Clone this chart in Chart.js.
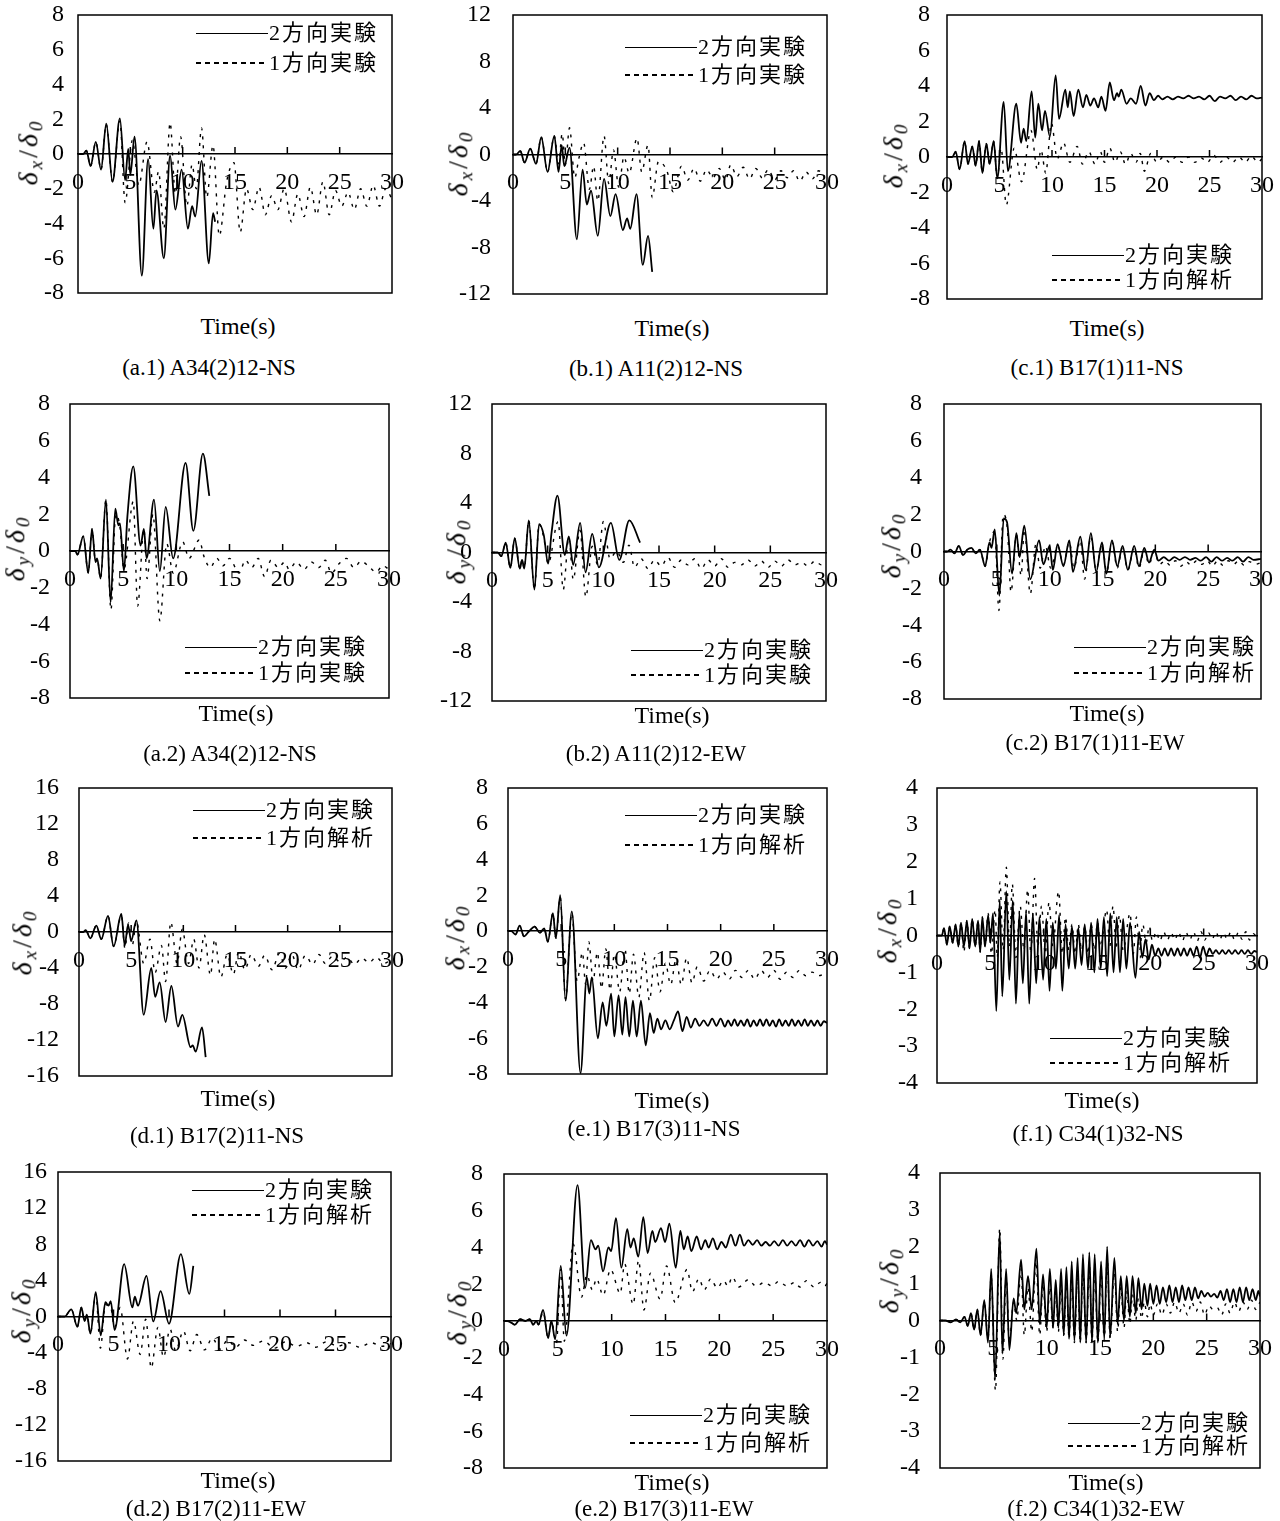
<!DOCTYPE html>
<html>
<head>
<meta charset="utf-8">
<script src="https://cdn.jsdelivr.net/npm/chart.js@4.4.1/dist/chart.umd.min.js"></script>
<style>
  html, body { margin: 0; padding: 0; background: #fff; }
  #page { position: relative; width: 1280px; height: 1521px; overflow: hidden;
          font-family: "Liberation Serif", "Times New Roman", serif; color: #000; }
  .holder { position: absolute; }
  .lbl { position: absolute; transform: translate(-50%, -50%); white-space: nowrap; line-height: 1; }
  .time { font-size: 24px; }
  .cap { font-size: 23px; }
  .ytitle { position: absolute; transform: translate(-50%, -50%) rotate(-90deg); white-space: nowrap;
            font-size: 28px; letter-spacing: 3px; line-height: 1; }
  .ytitle i { font-style: italic; }
  .ytitle sub { font-size: 0.68em; vertical-align: -0.28em; font-style: italic; }
  .leg { position: absolute; display: flex; align-items: center; transform: translateY(-50%);
         white-space: nowrap; font-family: "Liberation Serif", "Noto Sans CJK JP", serif;
         font-size: 22px; letter-spacing: 2px; line-height: 1; }
  .leg .s { width: 72px; height: 0; border-top: 1.7px solid #000; margin-right: 1px; }
  .leg .d { width: 72px; height: 1.5px; margin-right: 1px;
            background: repeating-linear-gradient(to right, #000 0 5px, transparent 5px 9px); }
</style>
</head>
<body>
<div id="page"></div>
<script>
// ---- response histories: [time (s), normalised displacement] ----
// 2方向実験 (bi-directional test) and the 1-direction reference for each specimen

const a1Bi = [[0,0],[0.5,0],[0.8,0.2],[1.2,-0.7],[1.7,0.7],[2.2,-0.9],[2.7,1.75],[3.3,-1.6],[4.0,2.05],[4.5,-1.5],[4.8,0.3],[5.0,-1.2],[5.4,1.0],[6.1,-7.0],[6.7,-0.3],[7.2,-4.3],[7.5,-2.1],[8.2,-6.0],[8.8,-0.1],[9.3,-3.2],[9.9,-0.9],[10.5,-4.3],[10.9,-3.0],[11.2,-3.6],[11.8,-0.4],[12.5,-6.3],[12.9,-3.4],[13.1,-3.9]];
const a1Uni = [[0,0],[0.5,0],[0.8,0.2],[1.2,-0.7],[1.7,0.7],[2.2,-0.9],[2.7,1.7],[3.3,-1.6],[4.0,1.9],[4.5,-2.8],[5.2,0.8],[5.8,-1.8],[6.6,0.7],[7.3,-2.2],[7.7,-1.0],[8.2,-4.3],[8.8,1.8],[9.3,-2.3],[9.8,1.0],[10.4,-3.0],[10.9,-0.6],[11.3,-2.0],[11.8,1.5],[12.3,-2.5],[12.9,0.5],[13.5,-4.7],[14.2,-1.6],[14.9,-0.5],[15.5,-4.5],[16.1,-2.0],[16.7,-3.2],[17.3,-1.9],[17.9,-3.5],[18.5,-2.4],[19.1,-3.2],[19.7,-2.0],[20.4,-3.9],[21.0,-2.3],[21.6,-3.6],[22.2,-1.9],[22.8,-3.5],[23.4,-1.6],[24.0,-3.5],[24.6,-2.1],[25.2,-3.0],[25.8,-2.2],[26.4,-3.2],[27.0,-2.0],[27.6,-3.0],[28.2,-1.8],[28.8,-3.0],[29.4,-2.0],[30,-2.6]];

const b1Bi = [[0,0],[0.3,0],[0.7,0.3],[1.1,-0.7],[1.65,0.5],[2.2,-0.8],[2.7,1.5],[3.3,-1.5],[3.95,1.6],[4.35,-1.5],[4.65,0.8],[4.9,-1.0],[5.4,0.6],[6.1,-7.3],[6.65,-1.3],[7.05,-4.3],[7.45,-3.1],[8.1,-7.0],[8.7,-2.1],[9.3,-5.3],[9.8,-3.4],[10.5,-6.5],[10.9,-5.5],[11.2,-6.4],[11.8,-3.4],[12.4,-9.5],[12.9,-7.0],[13.3,-10.1]];
const b1Uni = [[0,0],[0.3,0],[0.7,0.3],[1.1,-0.7],[1.65,0.5],[2.2,-0.8],[2.7,1.5],[3.3,-1.5],[3.95,1.6],[4.35,-0.8],[4.7,1.8],[5.0,-0.9],[5.4,2.3],[5.9,-2.0],[6.3,-0.3],[6.75,1.0],[7.3,-3.0],[7.7,-1.0],[8.1,-4.0],[8.7,1.6],[9.15,-2.5],[9.6,0.4],[10.1,-2.8],[10.6,-0.2],[11.1,-1.6],[11.85,1.4],[12.3,-1.5],[12.9,0.8],[13.3,-3.7],[13.9,-0.6],[14.7,-1.4],[15.3,-3.2],[16.1,-1.0],[16.7,-2.2],[17.3,-1.2],[17.9,-2.3],[18.5,-1.3],[19.1,-2.0],[19.7,-1.2],[20.3,-2.2],[20.8,-0.9],[21.4,-1.9],[22.0,-1.1],[22.6,-2.1],[23.2,-1.2],[23.8,-2.0],[24.4,-1.3],[25.0,-2.2],[25.6,-1.4],[26.2,-2.0],[26.8,-1.4],[27.4,-2.3],[28.0,-1.5],[28.6,-2.1],[29.2,-1.4],[29.8,-1.9]];

const c1Bi = [[0,0],[0.5,0],[0.83,0.3],[1.2,-0.7],[1.68,0.9],[2.0,-0.4],[2.41,0.6],[2.73,-0.5],[3.05,0.9],[3.37,-0.9],[3.75,0.75],[4.06,-0.4],[4.44,0.9],[4.79,-1.2],[5.4,3.1],[5.8,-0.8],[6.6,3.0],[7.05,0.8],[7.3,1.6],[7.55,0.9],[8.06,3.7],[8.4,1.1],[8.7,3.0],[9.05,1.5],[9.33,2.6],[9.8,1.15],[10.35,4.6],[10.67,2.15],[11.27,3.8],[11.5,2.8],[11.7,3.7],[12.06,2.3],[12.5,3.8],[12.95,2.8],[13.27,3.5],[13.65,2.9],[14.0,3.3],[14.4,2.8],[14.7,3.4],[15.1,2.6],[15.5,4.2],[15.9,3.2],[16.2,3.6],[16.35,3.4],[16.6,3.8],[17.1,3.0],[17.5,3.3],[18.0,3.0],[18.45,4.0],[18.9,2.9],[19.3,3.6],[19.7,3.2],[20.1,3.45],[20.5,3.25],[21.0,3.4],[21.5,3.25],[22.0,3.4],[22.5,3.3],[23.0,3.45],[23.5,3.3],[24.0,3.4],[24.5,3.25],[25.0,3.45],[25.5,3.15],[26.0,3.4],[26.5,3.3],[27.0,3.45],[27.5,3.2],[28.0,3.4],[28.5,3.25],[29.0,3.45],[29.5,3.3],[30,3.35]];
const c1Uni = [[0,0],[0.5,0],[0.83,0.3],[1.2,-0.7],[1.68,0.9],[2.0,-0.4],[2.41,0.6],[2.73,-0.5],[3.05,0.9],[3.37,-0.9],[3.75,0.75],[4.06,-0.4],[4.44,0.9],[4.79,-1.2],[5.15,0.5],[5.65,-2.7],[6.4,0.5],[7.1,-1.4],[8.0,1.5],[8.6,-0.7],[8.95,0.4],[9.4,-0.9],[9.95,1.9],[10.5,-0.1],[11.1,0.8],[11.7,-0.3],[12.4,0.6],[12.9,-0.4],[13.5,0.3],[14.1,-0.4],[14.6,0.3],[15.0,-0.3],[15.5,0.5],[16.0,-0.3],[16.5,0.3],[17.0,-0.4],[17.5,0.2],[18.0,-0.3],[18.4,0.2],[18.8,-0.8],[19.4,0.2],[20.0,-0.3],[20.6,0.0],[21.2,-0.3],[21.8,0.0],[22.4,-0.3],[23.0,0.0],[23.6,-0.3],[24.2,-0.05],[24.8,-0.3],[25.4,0.1],[26.0,-0.3],[26.6,0.0],[27.2,-0.3],[27.8,0.0],[28.4,-0.3],[29.0,0.05],[29.6,-0.3],[30,-0.1]];

const a2Bi = [[0,0],[0.5,0],[0.7,-0.2],[1.25,0.8],[1.72,-1.2],[2.07,1.2],[2.4,-0.6],[2.55,-0.4],[2.88,-1.5],[3.38,2.8],[3.82,-2.8],[4.26,2.3],[4.55,1.4],[4.7,1.5],[5.07,-1.1],[5.4,1.9],[5.95,4.6],[6.64,0.3],[6.95,1.2],[7.2,-0.4],[7.9,2.8],[8.45,-1.1],[9.0,2.4],[9.7,-0.4],[10.87,4.8],[11.6,1.1],[12.5,5.3],[13.1,3.0]];
const a2Uni = [[0,0],[0.5,0],[0.7,-0.2],[1.25,0.8],[1.72,-1.2],[2.07,1.2],[2.4,-0.6],[2.55,-0.4],[2.88,-1.5],[3.38,2.8],[3.85,-3.2],[4.3,2.0],[4.7,1.3],[5.07,-1.0],[5.95,2.7],[6.36,-3.0],[6.95,1.2],[7.25,-1.5],[7.8,2.0],[8.45,-3.8],[9.1,0.4],[9.7,-1.2],[10.6,0.5],[11.2,-0.4],[12.15,0.6],[12.6,-0.3],[13.2,-0.9],[13.8,-0.4],[14.4,-0.8],[15.0,-0.4],[15.9,-1.2],[16.5,-0.5],[17.1,-0.9],[17.7,-0.4],[18.3,-1.4],[18.9,-0.5],[19.6,-0.9],[20.2,-0.6],[20.6,-1.0],[21.3,-0.6],[22.0,-1.0],[22.7,-0.6],[23.4,-0.9],[24.0,-0.5],[24.6,-1.2],[25.3,-0.7],[26.0,-0.4],[26.7,-0.9],[27.4,-0.55],[28.1,-0.85],[28.8,-1.15],[29.4,-0.8],[30,-1.0]];

const b2Bi = [[0,0],[0.5,0],[0.84,-0.3],[1.23,0.8],[1.65,-1.25],[2.04,1.15],[2.5,-1.3],[2.7,-0.6],[2.9,-1.3],[3.3,2.6],[3.81,-3.0],[4.23,2.3],[4.65,1.4],[5.04,-0.9],[5.35,1.6],[5.88,4.6],[6.54,-0.2],[6.9,1.3],[7.29,-1.0],[7.92,2.4],[8.4,-1.6],[9.0,1.5],[9.6,-1.2],[10.68,2.4],[11.43,-0.6],[12.33,2.6],[13.3,0.8]];
const b2Uni = [[0,0],[0.5,0],[0.84,-0.3],[1.23,0.8],[1.65,-1.25],[2.04,1.15],[2.5,-1.3],[2.7,-0.6],[2.9,-1.3],[3.3,2.6],[3.81,-3.0],[4.23,2.3],[4.65,1.2],[5.04,-0.9],[5.94,2.5],[6.4,-3.0],[6.9,1.2],[7.3,-2.2],[7.9,1.8],[8.43,-3.6],[9.0,0.5],[9.5,-1.0],[10.0,2.5],[10.6,-0.5],[11.2,0.1],[11.8,-0.8],[12.3,0.6],[12.8,-1.2],[13.4,-0.5],[14.0,-1.3],[14.6,-0.6],[15.2,-1.1],[15.8,-0.4],[16.4,-1.2],[17.0,-0.6],[17.6,-1.0],[18.2,-0.5],[18.8,-1.3],[19.4,-0.6],[20.0,-1.1],[20.6,-0.5],[21.2,-1.2],[21.8,-0.8],[22.4,-1.0],[23.0,-0.6],[23.6,-1.1],[24.2,-0.7],[24.8,-1.2],[25.4,-0.7],[26.0,-1.1],[26.6,-0.6],[27.2,-1.0],[27.8,-0.8],[28.4,-1.1],[29.0,-0.7],[29.6,-1.0],[30,-0.8]];

const c2Bi = [[0,0],[0.3,0],[0.6,0.1],[1.0,-0.1],[1.4,0.3],[1.8,-0.2],[2.2,0.1],[2.6,0.2],[3.0,-0.1],[3.4,0.1],[3.9,-0.8],[4.3,0.5],[4.5,0.2],[4.8,1.2],[5.24,-2.4],[5.65,1.8],[5.96,1.6],[6.44,-1.2],[6.85,1.0],[7.15,-0.3],[7.6,1.4],[8.17,-1.5],[9.0,0.6],[9.4,-0.7],[10.0,0.3],[10.3,-1.0],[10.75,0.4],[11.3,-0.8],[11.86,0.6],[12.2,-1.1],[12.9,0.8],[13.4,-1.0],[13.9,1.0],[14.4,-1.1],[14.95,0.5],[15.36,-1.2],[15.9,0.6],[16.4,-0.8],[16.9,0.3],[17.4,-1.0],[18.0,0.3],[18.45,-0.8],[18.96,0.2],[19.4,-0.6],[19.9,0.1],[20.3,-0.5],[20.8,-0.3],[21.3,-0.5],[21.8,-0.3],[22.3,-0.45],[22.8,-0.3],[23.3,-0.45],[23.8,-0.35],[24.3,-0.5],[24.8,-0.3],[25.3,-0.55],[25.8,-0.3],[26.3,-0.5],[26.8,-0.35],[27.3,-0.5],[27.8,-0.3],[28.3,-0.55],[28.8,-0.3],[29.3,-0.45],[30,-0.4]];
const c2Uni = [[0,0],[0.3,0],[0.6,0.1],[1.0,-0.1],[1.4,0.3],[1.8,-0.2],[2.2,0.1],[2.6,0.2],[3.0,-0.1],[3.4,0.1],[3.9,-0.8],[4.3,0.5],[4.8,1.1],[5.2,-3.2],[5.6,2.0],[6.0,1.2],[6.34,-2.2],[6.85,0.9],[7.3,-1.3],[7.6,1.2],[8.17,-2.3],[8.7,0.4],[9.1,-0.9],[9.6,0.3],[10.1,-0.9],[10.75,0.3],[11.3,-0.7],[11.86,0.5],[12.3,-0.9],[12.9,0.6],[13.3,-1.5],[13.9,0.8],[14.4,-1.0],[14.95,0.4],[15.4,-1.1],[15.9,0.5],[16.4,-0.9],[16.9,0.2],[17.4,-1.0],[18.0,0.2],[18.45,-0.9],[18.96,0.1],[19.4,-0.7],[19.9,0.0],[20.4,-0.7],[20.9,-0.5],[21.4,-0.75],[21.9,-0.5],[22.4,-0.8],[22.9,-0.55],[23.4,-0.75],[23.9,-0.5],[24.4,-0.7],[24.9,-0.5],[25.4,-0.8],[25.9,-0.5],[26.4,-0.75],[26.9,-0.5],[27.4,-0.7],[27.9,-0.5],[28.4,-0.75],[28.9,-0.55],[29.4,-0.7],[30,-0.6]];

const d1Bi = [[0,0],[0.4,0],[0.64,0.2],[1.09,-0.7],[1.66,0.7],[2.14,-0.8],[2.78,1.8],[3.32,-1.6],[4.06,2.0],[4.38,-1.5],[4.7,0.8],[5.0,-1.0],[5.5,1.3],[6.2,-9.2],[6.93,-4.0],[7.3,-7.2],[7.73,-5.6],[8.3,-10.0],[8.85,-6.0],[9.49,-10.5],[9.9,-9.2],[10.7,-12.8],[10.9,-12.6],[11.18,-13.3],[11.79,-10.6],[12.14,-13.9]];
const d1Uni = [[0,0],[0.4,0],[0.64,0.2],[1.09,-0.7],[1.66,0.7],[2.14,-0.8],[2.78,1.8],[3.32,-1.6],[4.06,1.8],[4.4,-1.8],[4.75,1.0],[5.1,-1.5],[5.5,1.2],[6.2,-3.5],[6.8,-0.8],[7.3,-4.5],[7.9,-1.5],[8.3,-5.5],[8.8,1.1],[9.4,-3.5],[9.9,0.3],[10.5,-3.5],[11.0,-0.8],[11.5,-4.0],[12.0,-0.3],[12.6,-4.8],[13.0,-0.8],[13.6,-5.0],[14.2,-2.5],[14.8,-4.7],[15.3,-2.2],[15.9,-4.2],[16.5,-2.5],[17.2,-3.8],[17.8,-2.6],[18.5,-4.2],[19.2,-2.4],[19.8,-4.0],[20.4,-2.5],[21.0,-4.2],[21.7,-2.6],[22.4,-3.6],[23.0,-2.5],[23.6,-3.5],[24.3,-2.7],[25.0,-3.3],[25.7,-2.8],[26.4,-3.6],[27.1,-2.9],[27.8,-3.4],[28.5,-2.8],[29.2,-3.5],[30,-3.0]];

const e1Bi = [[0,0],[0.3,0],[0.7,-0.2],[1.1,0.3],[1.5,-0.3],[2.0,0.0],[2.5,0.25],[3.0,-0.1],[3.4,0.15],[3.75,-0.6],[4.22,1.0],[4.5,-0.4],[4.91,2.0],[5.41,-3.9],[6.0,1.1],[6.82,-7.95],[7.41,-2.6],[7.65,-3.5],[7.88,-2.6],[8.45,-6.0],[8.9,-4.0],[9.25,-5.3],[9.7,-3.5],[10.0,-5.9],[10.4,-3.6],[10.75,-5.8],[11.05,-3.7],[11.4,-5.9],[11.75,-3.9],[12.1,-5.9],[12.5,-3.9],[12.95,-6.4],[13.35,-4.6],[13.7,-5.7],[14.05,-4.9],[14.4,-5.5],[14.8,-5.0],[15.2,-5.5],[15.6,-5.0],[16.0,-4.5],[16.4,-5.6],[16.8,-4.8],[17.2,-5.4],[17.6,-4.9],[18.0,-5.3],[18.4,-5.0],[18.8,-5.3],[19.2,-4.9],[19.6,-5.3],[20.0,-4.9],[20.4,-5.35],[20.7,-5.0],[21.0,-5.3],[21.3,-4.95],[21.6,-5.3],[21.9,-5.0],[22.2,-5.3],[22.5,-4.95],[22.8,-5.35],[23.1,-5.0],[23.4,-5.3],[23.7,-4.95],[24.0,-5.3],[24.3,-4.95],[24.6,-5.3],[24.9,-5.0],[25.2,-5.35],[25.5,-4.95],[25.8,-5.3],[26.1,-5.0],[26.4,-5.3],[26.7,-4.95],[27.0,-5.3],[27.3,-5.0],[27.6,-5.3],[27.9,-4.95],[28.2,-5.3],[28.5,-5.0],[28.8,-5.3],[29.1,-5.0],[29.4,-5.3],[29.7,-5.05],[30,-5.15]];
const e1Uni = [[0,0],[0.3,0],[0.7,-0.2],[1.1,0.3],[1.5,-0.3],[2.0,0.0],[2.5,0.25],[3.0,-0.1],[3.4,0.15],[3.75,-0.6],[4.22,1.0],[4.5,-0.4],[4.91,1.9],[5.41,-3.8],[6.0,1.0],[6.5,-2.8],[7.0,-1.2],[7.3,-3.0],[7.6,-0.6],[8.0,-2.8],[8.4,-1.2],[8.8,-3.2],[9.2,-1.0],[9.6,-3.3],[10.0,-1.3],[10.5,-3.4],[11.0,-1.0],[11.4,-3.5],[11.8,-1.3],[12.3,-3.7],[12.8,-1.2],[13.3,-3.9],[13.8,-1.5],[14.3,-3.4],[14.8,-1.8],[15.3,-3.0],[15.8,-1.6],[16.3,-3.0],[16.8,-1.5],[17.3,-2.9],[17.8,-2.0],[18.4,-2.8],[19.0,-2.2],[19.6,-2.7],[20.2,-2.3],[20.8,-2.7],[21.4,-2.2],[22.0,-2.6],[22.6,-2.2],[23.2,-2.7],[23.8,-2.2],[24.4,-2.6],[25.0,-2.2],[25.6,-2.7],[26.2,-2.3],[26.8,-2.6],[27.4,-2.2],[28.0,-2.5],[28.6,-2.3],[29.2,-2.5],[30,-2.3]];

const f1Bi = [[0,0],[0.45,0],[0.66,0.2],[0.93,-0.25],[1.19,0.25],[1.47,-0.2],[1.75,0.3],[2.0,-0.3],[2.25,0.35],[2.52,-0.3],[2.8,0.4],[3.05,-0.35],[3.3,0.45],[3.58,-0.3],[3.85,0.4],[4.05,-0.45],[4.25,0.5],[4.5,-0.3],[4.8,0.55],[5.0,-0.2],[5.25,0.6],[5.56,-2.05],[5.88,0.95],[6.12,-1.65],[6.5,1.2],[6.78,-1.2],[7.1,0.95],[7.4,-1.85],[7.72,0.6],[8.05,-1.3],[8.35,0.65],[8.65,-1.85],[8.98,0.6],[9.3,-1.3],[9.6,0.5],[9.95,-1.2],[10.25,0.45],[10.55,-1.5],[10.85,0.35],[11.15,-0.9],[11.45,0.55],[11.75,-1.5],[12.05,0.3],[12.35,-0.9],[12.65,0.25],[12.95,-0.9],[13.25,0.2],[13.55,-0.8],[13.85,0.3],[14.15,-0.9],[14.45,0.35],[14.75,-1.0],[15.05,0.45],[15.35,-0.9],[15.65,0.5],[15.95,-1.1],[16.25,0.6],[16.55,-1.0],[16.85,0.5],[17.15,-1.0],[17.45,0.45],[17.75,-0.9],[18.1,0.35],[18.6,-1.15],[18.95,0.1],[19.25,-0.6],[19.55,-0.1],[19.85,-0.65],[20.15,-0.25],[20.45,-0.55],[20.75,-0.35],[21.05,-0.55],[21.35,-0.35],[21.65,-0.55],[21.95,-0.35],[22.25,-0.55],[22.55,-0.35],[22.85,-0.55],[23.15,-0.35],[23.45,-0.55],[23.75,-0.35],[24.05,-0.55],[24.35,-0.3],[24.65,-0.6],[24.95,-0.3],[25.25,-0.55],[25.55,-0.35],[25.85,-0.5],[26.15,-0.4],[26.45,-0.5],[26.75,-0.4],[27.05,-0.5],[27.35,-0.4],[27.65,-0.5],[27.95,-0.4],[28.25,-0.5],[28.55,-0.4],[28.85,-0.5],[29.15,-0.4],[29.45,-0.5],[29.75,-0.42],[30,-0.45]];
const f1Uni = [[0,0],[0.45,0],[0.66,0.2],[0.93,-0.25],[1.19,0.25],[1.47,-0.2],[1.75,0.3],[2.0,-0.3],[2.25,0.35],[2.52,-0.45],[2.8,0.4],[3.05,-0.35],[3.3,0.45],[3.58,-0.3],[3.85,0.4],[4.05,-0.45],[4.25,0.5],[4.5,-0.3],[4.8,0.6],[5.1,-0.5],[5.45,0.7],[5.65,-0.6],[5.9,1.45],[6.2,-0.4],[6.5,1.85],[6.8,-0.3],[7.06,1.4],[7.4,-0.6],[7.8,0.8],[8.15,-0.4],[8.5,1.25],[8.8,-0.5],[9.15,1.55],[9.45,-0.3],[9.8,0.8],[10.15,-0.5],[10.5,0.9],[10.85,-0.3],[11.4,1.2],[11.75,-0.5],[12.05,0.5],[12.35,-0.4],[12.65,0.3],[12.95,-0.5],[13.25,0.3],[13.55,-0.4],[13.85,0.25],[14.15,-0.5],[14.45,0.3],[14.75,-0.4],[15.05,0.35],[15.35,-0.3],[15.9,0.7],[16.2,-0.3],[16.5,0.8],[16.8,-0.3],[17.1,0.55],[17.45,-0.4],[18.1,0.6],[18.4,-0.5],[18.7,0.5],[19.0,-0.4],[19.3,0.3],[19.6,-0.2],[19.9,0.25],[20.2,-0.15],[20.55,0.1],[20.9,-0.15],[21.25,0.1],[21.6,-0.12],[21.95,0.08],[22.3,-0.12],[22.65,0.1],[23.0,-0.15],[23.35,0.08],[23.7,-0.12],[24.05,0.1],[24.4,-0.15],[24.75,0.1],[25.1,-0.12],[25.45,0.08],[25.8,-0.1],[26.15,0.1],[26.5,-0.12],[26.85,0.08],[27.2,-0.1],[27.55,0.1],[27.9,-0.12],[28.25,0.08],[28.6,-0.1],[28.95,0.1],[29.3,-0.12],[29.65,0.05],[30,-0.05]];

const d2Bi = [[0,0],[0.6,0],[1.2,0.8],[1.75,-1.15],[2.1,1.0],[2.4,-0.5],[2.6,0.2],[2.92,-1.9],[3.4,2.7],[3.85,-2.1],[4.27,1.6],[4.55,1.2],[4.75,1.7],[5.1,-1.5],[5.96,5.8],[6.7,1.0],[6.92,2.2],[7.2,1.2],[7.97,4.5],[8.58,-0.55],[9.24,2.8],[10.0,-0.8],[11.07,6.9],[11.83,2.5],[12.19,5.6]];
const d2Uni = [[0,0],[0.6,0],[1.2,0.8],[1.75,-1.15],[2.1,1.0],[2.4,-0.5],[2.6,0.2],[2.92,-1.9],[3.4,2.5],[3.82,-3.5],[4.27,1.3],[4.75,1.0],[5.1,-1.2],[5.6,1.0],[6.26,-4.7],[6.8,-0.5],[7.4,-4.2],[7.9,-0.3],[8.4,-5.7],[9.0,-1.2],[9.5,-4.5],[10.1,-1.4],[10.6,-3.8],[11.3,-1.6],[11.9,-3.8],[12.5,-2.0],[13.2,-3.7],[13.9,-2.4],[14.6,-3.6],[15.3,-2.6],[16.0,-3.4],[16.8,-2.6],[17.6,-3.2],[18.5,-2.7],[19.5,-3.5],[20.5,-2.8],[21.5,-3.3],[22.4,-2.9],[23.2,-3.4],[24.2,-2.8],[25.2,-3.3],[26.2,-2.9],[27.2,-3.4],[28.2,-2.9],[29.2,-3.3],[30,-3.0]];

const e2Bi = [[0,0],[0.3,0],[0.7,-0.1],[1.0,-0.2],[1.5,0.1],[2.0,0.0],[2.4,0.1],[2.7,-0.2],[3.0,0.0],[3.2,-0.2],[3.63,0.6],[4.1,-0.93],[4.4,0.0],[4.75,-1.0],[5.27,3.0],[5.8,-0.8],[6.83,7.4],[7.54,1.8],[8.07,4.4],[8.5,3.9],[8.75,4.1],[9.2,2.7],[9.7,4.0],[9.95,3.8],[10.4,5.6],[10.9,2.9],[11.45,5.0],[11.75,4.0],[12.05,4.5],[12.47,3.5],[12.94,5.65],[13.34,3.7],[13.78,4.9],[14.05,4.3],[14.58,5.05],[14.96,4.3],[15.36,5.3],[15.95,2.9],[16.38,4.9],[16.7,3.9],[17.06,4.6],[17.4,3.8],[17.9,4.6],[18.3,3.9],[18.7,4.4],[19.0,4.0],[19.4,4.5],[19.8,3.9],[20.2,4.3],[20.6,4.0],[21.07,4.7],[21.5,4.1],[21.9,4.7],[22.3,4.1],[22.7,4.4],[23.1,4.15],[23.5,4.4],[23.9,4.1],[24.3,4.3],[24.7,4.1],[25.1,4.35],[25.5,4.1],[25.9,4.4],[26.3,4.1],[26.7,4.35],[27.1,4.1],[27.5,4.4],[27.9,4.05],[28.3,4.4],[28.7,4.1],[29.1,4.35],[29.5,4.05],[29.8,4.35],[30,4.15]];
const e2Uni = [[0,0],[0.3,0],[0.7,-0.1],[1.0,-0.2],[1.5,0.1],[2.0,0.0],[2.4,0.1],[2.7,-0.2],[3.0,0.0],[3.2,-0.2],[3.63,0.5],[4.1,-0.9],[4.4,0.0],[4.87,-1.2],[5.27,2.8],[5.6,-1.1],[6.42,4.2],[7.2,1.3],[7.7,2.5],[8.2,1.7],[8.6,2.3],[9.2,1.4],[9.9,2.8],[10.8,1.5],[11.2,3.1],[12.0,0.9],[12.5,3.3],[13.0,0.6],[13.6,2.6],[14.5,1.2],[15.1,3.0],[15.9,1.0],[17.0,2.8],[17.5,1.6],[18.1,2.3],[18.6,1.7],[19.2,2.3],[19.8,1.8],[20.4,2.2],[20.8,1.9],[21.2,2.4],[21.8,1.85],[22.7,2.25],[23.4,1.9],[24.2,2.1],[24.9,1.9],[25.5,2.15],[26.3,1.9],[27.0,2.1],[27.5,1.85],[28.1,2.2],[28.8,1.85],[29.4,2.1],[29.8,1.9],[30,2.05]];

const f2Bi = [[0,0],[0.5,0],[1.0,-0.05],[1.5,0.03],[1.9,-0.05],[2.3,0.1],[2.6,-0.15],[2.9,0.2],[3.2,-0.25],[3.5,0.3],[3.8,-0.4],[4.15,0.55],[4.5,-0.6],[4.8,1.4],[5.16,-1.6],[5.6,2.4],[5.85,-0.9],[6.2,1.4],[6.5,-0.8],[6.9,0.6],[7.15,0.2],[7.6,1.65],[7.9,0.3],[8.25,1.2],[8.6,0.3],[9.04,1.95],[9.35,-0.1],[9.66,1.25],[10.0,-0.2],[10.3,1.4],[10.6,-0.2],[10.85,1.1],[11.1,-0.2],[11.35,1.4],[11.6,-0.4],[11.85,1.45],[12.1,-0.5],[12.35,1.6],[12.6,-0.55],[12.9,1.7],[13.15,-0.6],[13.4,1.8],[13.7,-0.6],[14.0,1.85],[14.25,-0.6],[14.5,1.8],[14.8,-0.6],[15.1,1.6],[15.4,-0.5],[15.67,2.0],[15.95,-0.45],[16.35,1.7],[16.65,-0.1],[16.95,1.2],[17.25,0.0],[17.5,1.2],[17.8,0.1],[18.05,1.2],[18.35,0.2],[18.6,1.15],[18.9,0.3],[19.15,1.0],[19.45,0.4],[19.7,1.0],[20.0,0.45],[20.3,0.95],[20.6,0.45],[20.9,0.9],[21.2,0.5],[21.5,0.95],[21.8,0.5],[22.1,0.9],[22.4,0.5],[22.7,0.95],[23.0,0.55],[23.3,0.9],[23.6,0.55],[23.9,0.9],[24.2,0.6],[24.5,0.8],[24.8,0.65],[25.1,0.75],[25.4,0.65],[25.7,0.72],[26.0,0.62],[26.3,0.8],[26.6,0.55],[26.9,0.85],[27.2,0.5],[27.5,0.85],[27.8,0.5],[28.1,0.9],[28.4,0.5],[28.7,0.9],[29.0,0.55],[29.3,0.85],[29.6,0.55],[29.85,0.8],[30,0.65]];
const f2Uni = [[0,0],[0.5,0],[1.0,-0.05],[1.5,0.03],[1.9,-0.05],[2.3,0.1],[2.6,-0.15],[2.9,0.2],[3.2,-0.25],[3.5,0.3],[3.8,-0.4],[4.15,0.5],[4.5,-0.5],[4.8,1.2],[5.2,-1.9],[5.6,2.5],[5.9,-1.05],[6.2,1.2],[6.5,-0.6],[6.9,0.5],[7.2,0.0],[7.6,1.4],[7.9,-0.4],[8.25,0.9],[8.6,-0.3],[9.0,1.6],[9.35,-0.4],[9.66,1.0],[10.0,-0.3],[10.3,0.9],[10.6,-0.2],[10.85,0.8],[11.1,-0.3],[11.35,1.0],[11.6,-0.4],[11.85,1.1],[12.1,-0.5],[12.35,1.2],[12.6,-0.6],[12.9,1.3],[13.15,-0.6],[13.4,1.4],[13.7,-0.6],[14.0,1.5],[14.25,-0.6],[14.5,1.4],[14.8,-0.6],[15.1,1.3],[15.4,-0.55],[15.67,1.7],[15.95,-0.5],[16.35,1.3],[16.65,-0.3],[16.95,0.9],[17.25,-0.2],[17.5,0.8],[17.8,-0.1],[18.05,0.7],[18.35,0.0],[18.6,0.6],[18.9,0.05],[19.15,0.5],[19.45,0.1],[19.7,0.45],[20.0,0.15],[20.4,0.45],[20.8,0.15],[21.2,0.45],[21.6,0.2],[22.0,0.5],[22.4,0.2],[22.8,0.45],[23.2,0.15],[23.6,0.5],[24.0,0.25],[24.4,0.5],[24.8,0.15],[25.2,0.4],[25.6,0.3],[26.0,0.35],[26.4,0.15],[26.8,0.45],[27.2,0.2],[27.6,0.5],[28.0,0.25],[28.4,0.5],[28.8,0.3],[29.2,0.55],[29.6,0.3],[30,0.5]];

// ---- axis ranges [min, max, step] ----
const yRanges = {
  a1: [-8, 8, 2], b1: [-12, 12, 4], c1: [-8, 8, 2],
  a2: [-8, 8, 2], b2: [-12, 12, 4], c2: [-8, 8, 2],
  d1: [-16, 16, 4], e1: [-8, 8, 2], f1: [-4, 4, 1],
  d2: [-16, 16, 4], e2: [-8, 8, 2], f2: [-4, 4, 1]
};
const timeTicks = [0, 5, 10, 15, 20, 25, 30];

// ---- text ----
const nameBi = '2方向実験';
const nameUniTest = '1方向実験';
const nameUniCalc = '1方向解析';
const timeTitle = 'Time(s)';
const captions = {
  a1: '(a.1) A34(2)12-NS', b1: '(b.1) A11(2)12-NS', c1: '(c.1) B17(1)11-NS',
  a2: '(a.2) A34(2)12-NS', b2: '(b.2) A11(2)12-EW', c2: '(c.2) B17(1)11-EW',
  d1: '(d.1) B17(2)11-NS', e1: '(e.1) B17(3)11-NS', f1: '(f.1) C34(1)32-NS',
  d2: '(d.2) B17(2)11-EW', e2: '(e.2) B17(3)11-EW', f2: '(f.2) C34(1)32-EW'
};

// ---- panel placement (page pixels) ----
// box: [plotLeft, plotRight, plotTop, plotBottom]
const panels = [
  { id: 'a1', bi: a1Bi, uni: a1Uni, uniName: nameUniTest, comp: 'x', box: [78, 392, 15, 293],    yPad: 14, yt: [30, 152],   tm: [238, 326],  cap: [209, 367],  leg: [196, 33, 63] },
  { id: 'b1', bi: b1Bi, uni: b1Uni, uniName: nameUniTest, comp: 'x', box: [513, 827, 15, 294],   yPad: 22, yt: [460, 163],  tm: [672, 328],  cap: [656, 368],  leg: [625, 47, 75] },
  { id: 'c1', bi: c1Bi, uni: c1Uni, uniName: nameUniCalc, comp: 'x', box: [947, 1262, 15, 299],  yPad: 17, yt: [895, 155],  tm: [1107, 328], cap: [1097, 367], leg: [1052, 255, 280] },
  { id: 'a2', bi: a2Bi, uni: a2Uni, uniName: nameUniTest, comp: 'y', box: [70, 389, 404, 698],   yPad: 20, yt: [17, 548],   tm: [236, 713],  cap: [230, 753],  leg: [185, 647, 673] },
  { id: 'b2', bi: b2Bi, uni: b2Uni, uniName: nameUniTest, comp: 'y', box: [492, 826, 404, 701],  yPad: 20, yt: [458, 551],  tm: [672, 715],  cap: [656, 753],  leg: [631, 650, 675] },
  { id: 'c2', bi: c2Bi, uni: c2Uni, uniName: nameUniCalc, comp: 'y', box: [944, 1261, 404, 699], yPad: 22, yt: [893, 545],  tm: [1107, 713], cap: [1095, 742], leg: [1074, 647, 673] },
  { id: 'd1', bi: d1Bi, uni: d1Uni, uniName: nameUniCalc, comp: 'x', box: [79, 392, 788, 1076],  yPad: 20, yt: [24, 942],   tm: [238, 1098], cap: [217, 1135], leg: [193, 810, 838] },
  { id: 'e1', bi: e1Bi, uni: e1Uni, uniName: nameUniCalc, comp: 'x', box: [508, 827, 788, 1074], yPad: 20, yt: [457, 937],  tm: [672, 1100], cap: [654, 1128], leg: [625, 815, 845] },
  { id: 'f1', bi: f1Bi, uni: f1Uni, uniName: nameUniCalc, comp: 'x', box: [937, 1257, 788, 1083],yPad: 19, yt: [889, 930],  tm: [1102, 1100],cap: [1098, 1133],leg: [1050, 1038, 1063] },
  { id: 'd2', bi: d2Bi, uni: d2Uni, uniName: nameUniCalc, comp: 'y', box: [58, 391, 1172, 1461], yPad: 11, yt: [23, 1310],  tm: [238, 1480], cap: [216, 1508], leg: [192, 1190, 1215] },
  { id: 'e2', bi: e2Bi, uni: e2Uni, uniName: nameUniCalc, comp: 'y', box: [504, 827, 1174, 1468],yPad: 21, yt: [459, 1312], tm: [672, 1482], cap: [664, 1508], leg: [630, 1415, 1443] },
  { id: 'f2', bi: f2Bi, uni: f2Uni, uniName: nameUniCalc, comp: 'y', box: [940, 1260, 1173, 1468],yPad: 20, yt: [891, 1280], tm: [1106, 1482],cap: [1096, 1508],leg: [1068, 1423, 1446] }
];

Chart.defaults.font.family = '"Liberation Serif", "Times New Roman", serif';
Chart.defaults.font.size = 24;
Chart.defaults.color = '#000';

// plot frame plus short inward tick marks on the zero line
const framePlugin = {
  id: 'frame',
  afterDatasetsDraw(chart) {
    const { ctx, chartArea: a, scales: { x, y } } = chart;
    ctx.save();
    ctx.strokeStyle = '#000';
    ctx.lineWidth = 1.5;
    ctx.strokeRect(a.left, a.top, a.right - a.left, a.bottom - a.top);
    const y0 = y.getPixelForValue(0);
    ctx.beginPath();
    x.ticks.forEach(t => {
      if (t.value > x.min && t.value < x.max) {
        const px = x.getPixelForValue(t.value);
        ctx.moveTo(px, y0);
        ctx.lineTo(px, y0 - 7);
      }
    });
    ctx.stroke();
    ctx.restore();
  }
};

const page = document.getElementById('page');
const PAD = 15;

function addText(cls, html, cx, cy) {
  const d = document.createElement('div');
  d.className = cls;
  d.style.left = cx + 'px';
  d.style.top = cy + 'px';
  d.innerHTML = html;
  page.appendChild(d);
}

function addLegendRow(x, y, lineCls, text) {
  const r = document.createElement('div');
  r.className = 'leg';
  r.style.left = x + 'px';
  r.style.top = y + 'px';
  const ln = document.createElement('span');
  ln.className = lineCls;
  const tx = document.createElement('span');
  tx.textContent = text;
  r.appendChild(ln);
  r.appendChild(tx);
  page.appendChild(r);
}

function toXY(arr) { return arr.map(p => ({ x: p[0], y: p[1] })); }

panels.forEach(p => {
  const [L, R, T, B] = p.box;
  const yW = Math.min(70, L - 2);
  const w = R - L + yW + PAD, h = B - T + 2 * PAD;
  const holder = document.createElement('div');
  holder.className = 'holder';
  holder.style.left = (L - yW) + 'px';
  holder.style.top = (T - PAD) + 'px';
  holder.style.width = w + 'px';
  holder.style.height = h + 'px';
  const cv = document.createElement('canvas');
  cv.width = w; cv.height = h;
  cv.style.width = w + 'px'; cv.style.height = h + 'px';
  holder.appendChild(cv);
  page.appendChild(holder);

  const [ymin, ymax, ystep] = yRanges[p.id];
  new Chart(cv, {
    type: 'line',
    data: {
      datasets: [
        { label: nameBi, data: toXY(p.bi), borderColor: '#000', borderWidth: 1.8,
          pointRadius: 0, cubicInterpolationMode: 'monotone', fill: false },
        { label: p.uniName, data: toXY(p.uni), borderColor: '#000', borderWidth: 1.4,
          borderDash: [3, 6], pointRadius: 0, cubicInterpolationMode: 'monotone', fill: false }
      ]
    },
    options: {
      responsive: false,
      animation: false,
      events: [],
      layout: { padding: { left: 0, top: PAD, right: PAD, bottom: PAD } },
      plugins: { legend: { display: false }, tooltip: { enabled: false } },
      scales: {
        x: {
          type: 'linear', min: 0, max: 30,
          position: { y: 0 },
          grid: { display: false, drawTicks: false },
          border: { display: true, color: '#000', width: 1.5 },
          afterBuildTicks: s => { s.ticks = timeTicks.map(v => ({ value: v })); },
          ticks: { padding: 14, maxRotation: 0, autoSkip: false },
          afterFit: s => { s.paddingLeft = 0; s.paddingRight = 0; }
        },
        y: {
          min: ymin, max: ymax,
          grid: { display: false, drawTicks: false },
          border: { display: false },
          ticks: { stepSize: ystep, padding: p.yPad },
          afterFit: s => { s.width = yW; s.paddingTop = 0; s.paddingBottom = 0; }
        }
      }
    },
    plugins: [framePlugin]
  });

  addText('ytitle', '<i>δ</i><sub>' + p.comp + '</sub>/<i>δ</i><sub>0</sub>', p.yt[0], p.yt[1]);
  addText('lbl time', timeTitle, p.tm[0], p.tm[1]);
  addText('lbl cap', captions[p.id], p.cap[0], p.cap[1]);
  addLegendRow(p.leg[0], p.leg[1], 's', nameBi);
  addLegendRow(p.leg[0], p.leg[2], 'd', p.uniName);
});
</script>
</body>
</html>
